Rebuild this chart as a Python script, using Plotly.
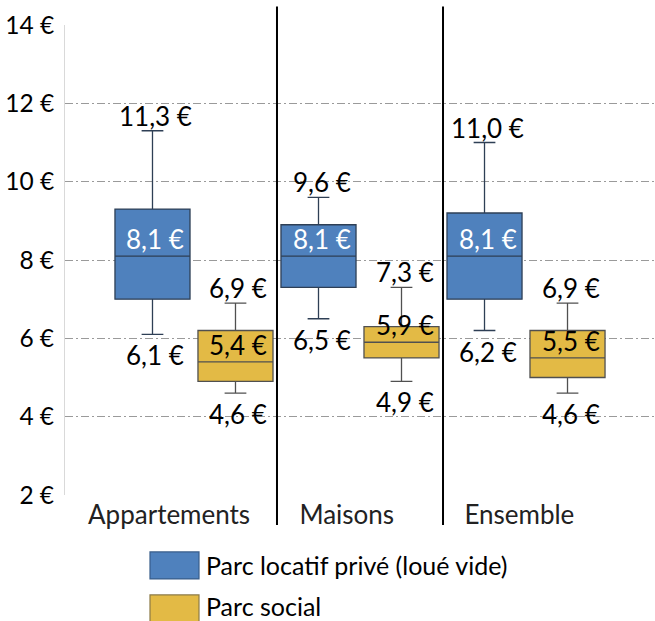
import plotly.graph_objects as go

categories = ["Appartements", "Maisons", "Ensemble"]
series_names = ["Parc locatif privé (loué vide)", "Parc social"]

# Blue series: Parc locatif privé
prive_min = [6.1, 6.5, 6.2]
prive_q1 = [7.0, 7.3, 7.0]
prive_med = [8.1, 8.1, 8.1]
prive_q3 = [9.3, 8.9, 9.2]
prive_max = [11.3, 9.6, 11.0]

# Yellow series: Parc social
social_min = [4.6, 4.9, 4.6]
social_q1 = [4.9, 5.5, 5.0]
social_med = [5.4, 5.9, 5.5]
social_q3 = [6.2, 6.3, 6.2]
social_max = [6.9, 7.3, 6.9]

y_ticks = [2, 4, 6, 8, 10, 12, 14]

prive_x = [0, 2, 4]
social_x = [1, 3, 5]
cat_label_x = [0.2, 2.34, 4.42]
separators_x = [1.5, 3.5]

FONT = "Lato"
FS = 26
BLUE = "#4F81BD"
YELLOW = "#E3BA45"

W, H = 655, 621
PL, PT, PB, PR = 65, 24.5, 495, 655

def fmt(v):
    return f"{v:.1f}".replace(".", ",") + " €"

fig = go.Figure()
fig.add_trace(go.Box(
    x=prive_x, q1=prive_q1, median=prive_med, q3=prive_q3,
    lowerfence=prive_min, upperfence=prive_max,
    name=series_names[0], fillcolor=BLUE,
    line=dict(color="#2E3F55", width=1.3),
    width=0.904, whiskerwidth=0.29, boxpoints=False, showlegend=False,
))
fig.add_trace(go.Box(
    x=social_x, q1=social_q1, median=social_med, q3=social_q3,
    lowerfence=social_min, upperfence=social_max,
    name=series_names[1], fillcolor=YELLOW,
    line=dict(color="#505050", width=1.3),
    width=0.904, whiskerwidth=0.29, boxpoints=False, showlegend=False,
))

ann = []
def label(x, y, text, shift, color="black"):
    ann.append(dict(x=x, y=y, xref="x", yref="y", text=text, showarrow=False,
                    xshift=3, yshift=shift, yanchor="middle", xanchor="center",
                    font=dict(family=FONT, size=FS, color=color)))

for xs, mins, meds, maxs, medcol in [
    (prive_x, prive_min, prive_med, prive_max, "white"),
    (social_x, social_min, social_med, social_max, "black"),
]:
    for x, mn, md, mx in zip(xs, mins, meds, maxs):
        label(x, mx, fmt(mx), 15)
        label(x, md, fmt(md), 17, medcol)
        label(x, mn, fmt(mn), -21)

# page-pixel -> paper coords
def px_x(p):
    return (p - PL) / (PR - PL)
def px_y(p):
    return (PB - p) / (PB - PT)

shapes = []
for sx in separators_x:
    shapes.append(dict(type="line", xref="x", yref="paper", x0=sx, x1=sx,
                       y0=px_y(525), y1=px_y(6), line=dict(color="black", width=2)))

legend_items = [(series_names[0], BLUE, "#385D8A", 552, 565),
                (series_names[1], YELLOW, "#8C7A45", 595, 606)]
for name, fill, border, top, cy in legend_items:
    shapes.append(dict(type="rect", xref="paper", yref="paper",
                       x0=px_x(150), x1=px_x(199), y0=px_y(top + 27), y1=px_y(top),
                       fillcolor=fill, line=dict(color=border, width=1.2)))
    ann.append(dict(x=px_x(204), y=px_y(cy), xref="paper", yref="paper", text=name,
                    showarrow=False, xanchor="left", yanchor="middle",
                    font=dict(family=FONT, size=25, color="black")))

fig.update_layout(
    width=W, height=H,
    margin=dict(l=PL, r=W - PR, t=PT, b=H - PB, autoexpand=False),
    paper_bgcolor="white", plot_bgcolor="white",
    boxmode="overlay",
    showlegend=False,
    font=dict(family=FONT, size=FS, color="black"),
    annotations=ann, shapes=shapes,
    xaxis=dict(range=[-1.054, 6.054], tickmode="array", tickvals=cat_label_x,
               ticktext=categories, showgrid=False, zeroline=False, showline=False,
               ticks="", automargin=False, ticklabelstandoff=2,
               tickfont=dict(family=FONT, size=FS, color="#222")),
    yaxis=dict(range=[2, 14], tickmode="array", tickvals=y_ticks,
               ticktext=[f"{v} €" for v in y_ticks], showgrid=True,
               gridcolor="#9a9a9a", griddash="8px,3px,2px,3px", gridwidth=1,
               zeroline=False, showline=True, linecolor="#d9d9d9", linewidth=1,
               ticks="", ticklabelstandoff=5, automargin=False,
               tickfont=dict(family=FONT, size=24.5, color="black")),
)

fig.write_html("out.html",
               config={"displayModeBar": False},
               post_script="document.body.style.margin='0';document.body.style.overflow='hidden';")
